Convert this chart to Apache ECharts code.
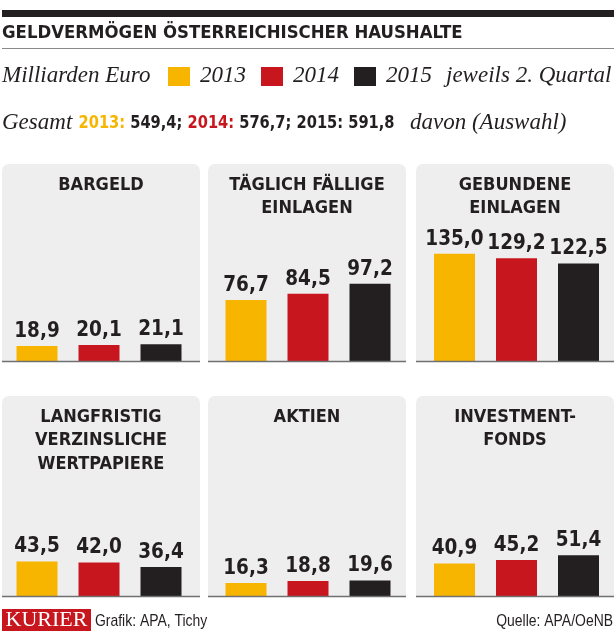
<!DOCTYPE html>
<html>
<head>
<meta charset="utf-8">
<script src="https://cdn.jsdelivr.net/npm/echarts@6/dist/echarts.min.js"></script>
<style>
html,body{margin:0;padding:0;background:#fff;}
#c{width:616px;height:636px;}
</style>
</head>
<body>
<div id="c"></div>
<script>
// ---- data ----
const categories = ['BARGELD', 'TÄGLICH FÄLLIGE\nEINLAGEN', 'GEBUNDENE\nEINLAGEN',
  'LANGFRISTIG\nVERZINSLICHE\nWERTPAPIERE', 'AKTIEN', 'INVESTMENT-\nFONDS'];
const years = ['2013', '2014', '2015'];
const v2013 = [18.9, 76.7, 135.0, 43.5, 16.3, 40.9];
const v2014 = [20.1, 84.5, 129.2, 42.0, 18.8, 45.2];
const v2015 = [21.1, 97.2, 122.5, 36.4, 19.6, 51.4];
const totals = [549.4, 576.7, 591.8];

const chartTitle = 'GELDVERMÖGEN ÖSTERREICHISCHER HAUSHALTE';
const unitText = 'Milliarden Euro';
const noteText = 'jeweils 2. Quartal';
const totalPrefix = 'Gesamt';
const totalSuffix = 'davon (Auswahl)';
const creditText = 'Grafik: APA, Tichy';
const sourceText = 'Quelle: APA/OeNB';
const brandText = 'KURIER';

// ---- style / layout ----
const yearColors = ['#f7b500', '#c8161e', '#231f20'];
const dark = '#231f20';
const panelBg = '#efeeef';
const COND = '"DejaVu Sans Condensed", "DejaVu Sans", sans-serif';
const SERIF = '"Liberation Serif", serif';
const SANS = '"Liberation Sans", sans-serif';

const gridLeft = [6, 215, 423.5];
const gridW = 186;
const rowBase = [361, 596];
const gridH = 159;
const panelX = [2, 208, 416];
const panelW = 198;
const panelTop = [164, 396];

const fmt = v => v.toFixed(1).replace('.', ',');

const chart = echarts.init(document.getElementById('c'), null, {renderer: 'canvas'});

const grids = [], xAxes = [], yAxes = [], series = [], titles = [];
const graphics = [];

categories.forEach((cat, i) => {
  const col = i % 3, row = Math.floor(i / 3);
  grids.push({left: gridLeft[col], width: gridW, top: rowBase[row] - gridH, height: gridH});
  xAxes.push({type: 'category', gridIndex: i, data: years, show: false});
  yAxes.push({type: 'value', gridIndex: i, min: 0, max: 200, show: false});
  series.push({
    type: 'bar', xAxisIndex: i, yAxisIndex: i,
    data: [v2013[i], v2014[i], v2015[i]],
    barWidth: 41, silent: true, z: 5,
    itemStyle: {color: p => yearColors[p.dataIndex]},
    label: {
      show: true, position: 'top', distance: 4,
      formatter: p => fmt(p.value),
      color: dark, fontFamily: COND, fontWeight: 'bold', fontSize: 20.5
    }
  });
  titles.push({
    text: cat, left: panelX[col] + panelW / 2, top: panelTop[row] + 9.5,
    textAlign: 'center', padding: 0,
    textStyle: {fontFamily: COND, fontWeight: 'bold', fontSize: 18, lineHeight: 23.5, color: dark}
  });
  graphics.push({
    type: 'rect', z: 0,
    shape: {x: panelX[col], y: panelTop[row], width: panelW, height: rowBase[row] - panelTop[row], r: [7, 7, 0, 0]},
    style: {fill: panelBg}
  });
  graphics.push({
    type: 'line', z: 20,
    shape: {x1: panelX[col], y1: rowBase[row] + 0.5, x2: panelX[col] + panelW, y2: rowBase[row] + 0.5},
    style: {stroke: '#707070', lineWidth: 1.5}
  });
});

// header
graphics.push({type: 'rect', shape: {x: 2, y: 10, width: 612, height: 7}, style: {fill: dark}});
graphics.push({type: 'text', x: 2, y: 33, style: {text: chartTitle, fill: dark,
  font: 'bold 18.4px ' + COND, verticalAlign: 'middle', align: 'left'}});
graphics.push({type: 'line', shape: {x1: 2, y1: 48.5, x2: 614, y2: 48.5}, style: {stroke: '#8a8a8a', lineWidth: 1}});

// legend row
graphics.push({type: 'text', x: 2, y: 76, style: {text: unitText, fill: dark,
  font: 'italic 23px ' + SERIF, verticalAlign: 'middle'}});
const legSqX = [168, 261, 354];
const legTxtX = [200, 293, 386];
years.forEach((y, k) => {
  graphics.push({type: 'rect', shape: {x: legSqX[k], y: 67, width: 22, height: 19}, style: {fill: yearColors[k]}});
  graphics.push({type: 'text', x: legTxtX[k], y: 76, style: {text: y, fill: dark,
    font: 'italic 23px ' + SERIF, verticalAlign: 'middle'}});
});
graphics.push({type: 'text', x: 446, y: 76, style: {text: noteText, fill: dark,
  font: 'italic 23px ' + SERIF, verticalAlign: 'middle'}});

// totals row
graphics.push({type: 'text', x: 2, y: 123, style: {text: totalPrefix, fill: dark,
  font: 'italic 23px ' + SERIF, verticalAlign: 'middle'}});
const rs = {fontFamily: COND, fontWeight: 'bold', fontSize: 18.5};
let rich = '';
years.forEach((y, k) => {
  const key = ['y', 'r', 'b'][k];
  rich += '{' + key + '|' + y + ':}{b| ' + fmt(totals[k]) + (k < 2 ? '; ' : '') + '}';
});
graphics.push({type: 'text', x: 78.5, y: 123, scaleX: 0.88, style: {text: rich, verticalAlign: 'middle',
  rich: {
    y: Object.assign({fill: yearColors[0], color: yearColors[0]}, rs),
    r: Object.assign({fill: yearColors[1], color: yearColors[1]}, rs),
    b: Object.assign({fill: dark, color: dark}, rs)
  }}});
graphics.push({type: 'text', x: 410, y: 123, style: {text: totalSuffix, fill: dark,
  font: 'italic 23px ' + SERIF, verticalAlign: 'middle'}});

// footer
graphics.push({type: 'rect', shape: {x: 2, y: 609, width: 89, height: 22}, style: {fill: '#c8161e'}});
graphics.push({type: 'text', x: 46.5, y: 620.5, scaleX: 1.1, style: {text: brandText, fill: '#fff',
  font: '20px ' + SERIF, align: 'center', verticalAlign: 'middle'}});
graphics.push({type: 'text', x: 95, y: 621, scaleX: 0.82, style: {text: creditText, fill: dark,
  font: '17px ' + SANS, verticalAlign: 'middle'}});
graphics.push({type: 'text', x: 613, y: 621, scaleX: 0.82, style: {text: sourceText, fill: dark,
  font: '17px ' + SANS, verticalAlign: 'middle', align: 'right'}});

chart.setOption({
  backgroundColor: '#fff',
  animation: false,
  title: titles,
  grid: grids,
  xAxis: xAxes,
  yAxis: yAxes,
  series: series,
  graphic: {elements: graphics}
});
</script>
</body>
</html>
